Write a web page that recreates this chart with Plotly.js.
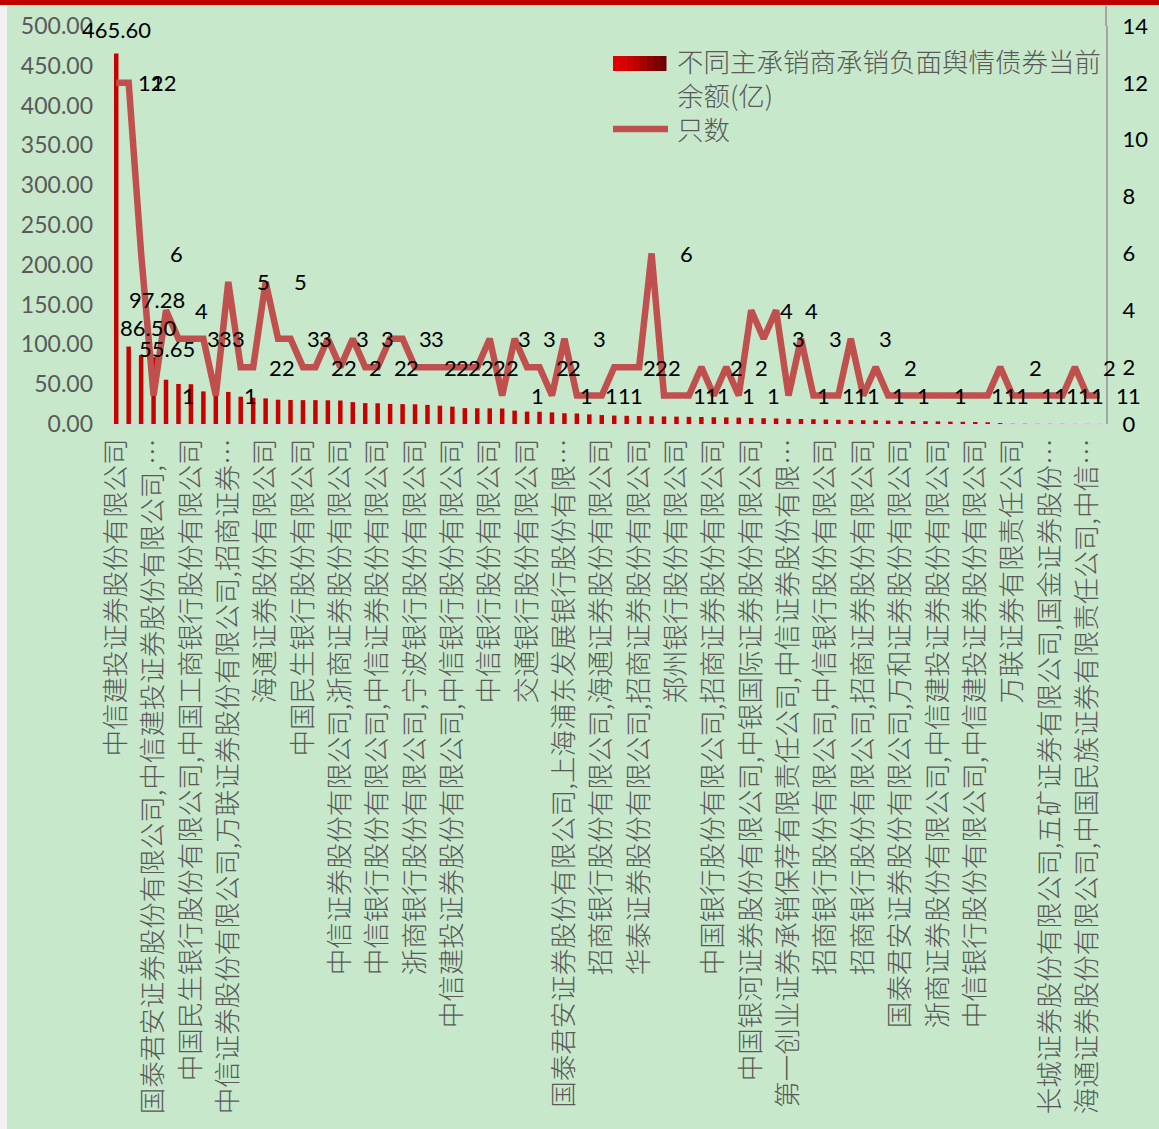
<!DOCTYPE html>
<html>
<head>
<meta charset="utf-8">
<script src="https://cdn.plot.ly/plotly-3.0.1.min.js"></script>
<style>html,body{margin:0;padding:0;background:#C8E8CC;}#chart{width:1159px;height:1129px;}</style>
</head>
<body>
<div id="chart"></div>
<script>
// ---- data ----
const barName = '不同主承销商承销负面舆情债券当前余额(亿)';
const lineName = '只数';

// tick labels shown on the x axis (every third underwriter group)
const xLabels = [
  '中信建投证券股份有限公司',
  '国泰君安证券股份有限公司,中信建投证券股份有限公司,…',
  '中国民生银行股份有限公司,中国工商银行股份有限公司',
  '中信证券股份有限公司,万联证券股份有限公司,招商证券…',
  '海通证券股份有限公司',
  '中国民生银行股份有限公司',
  '中信证券股份有限公司,浙商证券股份有限公司',
  '中信银行股份有限公司,中信证券股份有限公司',
  '浙商银行股份有限公司,宁波银行股份有限公司',
  '中信建投证券股份有限公司,中信银行股份有限公司',
  '中信银行股份有限公司',
  '交通银行股份有限公司',
  '国泰君安证券股份有限公司,上海浦东发展银行股份有限…',
  '招商银行股份有限公司,海通证券股份有限公司',
  '华泰证券股份有限公司,招商证券股份有限公司',
  '郑州银行股份有限公司',
  '中国银行股份有限公司,招商证券股份有限公司',
  '中国银河证券股份有限公司,中银国际证券股份有限公司',
  '第一创业证券承销保荐有限责任公司,中信证券股份有限…',
  '招商银行股份有限公司,中信银行股份有限公司',
  '招商银行股份有限公司,招商证券股份有限公司',
  '国泰君安证券股份有限公司,万和证券股份有限公司',
  '浙商证券股份有限公司,中信建投证券股份有限公司',
  '中信银行股份有限公司,中信建投证券股份有限公司',
  '万联证券有限责任公司',
  '长城证券股份有限公司,五矿证券有限公司,国金证券股份…',
  '海通证券股份有限公司,中国民族证券有限责任公司,中信…'
];

// 余额(亿) per group
const amounts = [
  465.60, 97.28, 86.50, 84.0, 55.65, 50.3, 50.0, 41.0, 40.6, 40.3,
  34.3, 33.0, 32.2, 30.5, 30.2, 30.0, 30.0, 29.8, 29.5, 27.5,
  26.2, 26.0, 25.2, 25.0, 24.8, 24.0, 23.0, 21.8, 20.0, 19.8,
  19.7, 19.5, 16.8, 15.6, 15.4, 14.6, 13.5, 13.2, 12.1, 11.2,
  10.6, 10.3, 10.0, 9.8, 9.5, 9.3, 9.0, 8.8, 8.5, 8.3,
  8.0, 7.6, 7.3, 7.0, 6.6, 6.3, 6.0, 5.6, 5.3, 5.0,
  4.8, 4.5, 4.3, 4.0, 3.8, 3.5, 3.3, 3.0, 2.8, 2.5,
  2.2, 1.2, 0.3, 0.3, 0.2, 0.2, 0.2, 0.1, 0.1, 0.1
];

// 只数 per group
const counts = [
  12, 12, 6, 1, 4, 3, 3, 3, 1, 5,
  2, 2, 5, 3, 3, 2, 2, 3, 2, 3,
  2, 2, 3, 3, 2, 2, 2, 2, 2, 2,
  3, 1, 3, 2, 2, 1, 3, 1, 1, 1,
  2, 2, 2, 6, 1, 1, 1, 2, 1, 2,
  1, 4, 3, 4, 1, 3, 1, 1, 1, 3,
  1, 2, 1, 1, 1, 1, 1, 1, 1, 1,
  1, 2, 1, 1, 1, 1, 1, 2, 1, 1
];

const leftTicks = [0, 50, 100, 150, 200, 250, 300, 350, 400, 450, 500];
const rightTicks = [0, 2, 4, 6, 8, 10, 12, 14];

// which data labels are visible in the reference
const barLabelIdx = [0, 1, 2, 4];
const hiddenCountLabels = [63, 64, 66, 67];

// ---- build ----
const idx = amounts.map((_, i) => i);
const labelStep = 3;
const tickvals = xLabels.map((_, k) => k * labelStep);

const numFont = 'Lato, "Noto Sans CJK SC", sans-serif';
const cjkFont = '"Noto Sans CJK SC", Lato, sans-serif';

const traces = [
  {
    type: 'bar', name: barName, x: idx, y: amounts,
    width: 0.36,
    marker: {color: '#C80000', line: {width: 0}},
    showlegend: false, hoverinfo: 'x+y'
  },
  {
    type: 'scatter', mode: 'lines', name: lineName, x: idx, y: counts, yaxis: 'y2',
    line: {color: '#C0504D', width: 6.5},
    showlegend: false, cliponaxis: false
  }
];

const annotations = [];
// line data labels (to the right of each point)
counts.forEach((v, i) => {
  if (hiddenCountLabels.includes(i)) return;
  annotations.push({
    x: i, y: v, xref: 'x', yref: 'y2', text: String(v), showarrow: false,
    xanchor: 'center', yanchor: 'middle', xshift: 35,
    font: {family: numFont, size: 22, color: '#000000'}
  });
});
// bar data labels
const barLabelShift = {0: [0, 24], 1: [28, 47], 2: [7, 28], 4: [1, 31]};
barLabelIdx.forEach(i => {
  annotations.push({
    x: i, y: amounts[i], xref: 'x', yref: 'y', text: amounts[i].toFixed(2), showarrow: false,
    xanchor: 'center', yanchor: 'middle', xshift: barLabelShift[i][0], yshift: barLabelShift[i][1],
    font: {family: numFont, size: 22, color: '#000000'}
  });
});

// custom legend (pixel -> paper helpers)
const plotL = 110, plotR = 1106, plotT = 26, plotB = 424;
const px = p => (p - plotL) / (plotR - plotL);
const py = p => (plotB - p) / (plotB - plotT);

annotations.push({
  xref: 'paper', yref: 'paper', x: px(675), y: py(77), xanchor: 'left', yanchor: 'middle',
  align: 'left', showarrow: false,
  text: barName.slice(0, 16) + '<br>' + barName.slice(16),
  font: {family: cjkFont, size: 26.5, color: '#595959', weight: 300}
});
annotations.push({
  xref: 'paper', yref: 'paper', x: px(675), y: py(128), xanchor: 'left', yanchor: 'middle',
  align: 'left', showarrow: false, text: lineName,
  font: {family: cjkFont, size: 26.5, color: '#595959', weight: 300}
});

const shapes = [];
// top red band
shapes.push({type: 'rect', xref: 'paper', yref: 'paper', x0: px(0), x1: px(1159), y0: py(5), y1: py(-2),
  fillcolor: '#C00000', line: {width: 0}, layer: 'above'});
// left light strip
shapes.push({type: 'rect', xref: 'paper', yref: 'paper', x0: px(-2), x1: px(7), y0: py(1131), y1: py(5),
  fillcolor: '#F2F2F2', line: {width: 0}});
// right axis line extension to the top
shapes.push({type: 'line', xref: 'paper', yref: 'paper', x0: 1, x1: 1, y0: 1, y1: py(6),
  line: {color: '#A6A6A6', width: 2}});
// legend bar swatch (gradient approximated by slices)
const swatchCols = ['#E00000', '#D80000', '#CC0000', '#BC0000', '#A80000', '#940000', '#800000', '#700000'];
const sw0 = 613, sw1 = 666;
swatchCols.forEach((c, k) => {
  const a = sw0 + (sw1 - sw0) * k / swatchCols.length;
  const b = sw0 + (sw1 - sw0) * (k + 1) / swatchCols.length;
  shapes.push({type: 'rect', xref: 'paper', yref: 'paper', x0: px(a), x1: px(b + 0.5), y0: py(71), y1: py(56),
    fillcolor: c, line: {width: 0}});
});
// legend line swatch
shapes.push({type: 'line', xref: 'paper', yref: 'paper', x0: px(613), x1: px(668), y0: py(129), y1: py(129),
  line: {color: '#C0504D', width: 6.5}});

const layout = {
  width: 1159, height: 1129,
  margin: {l: plotL, r: 1159 - plotR, t: plotT, b: 1129 - plotB, pad: 0},
  paper_bgcolor: '#C8E8CC', plot_bgcolor: '#C8E8CC',
  showlegend: false,
  bargap: 0.6,
  xaxis: {
    range: [-0.5, amounts.length - 0.5], tickmode: 'array', tickvals: tickvals, ticktext: xLabels,
    tickangle: -90, tickfont: {family: cjkFont, size: 26.5, color: '#595959', weight: 300},
    showgrid: false, zeroline: false, showline: true, linecolor: '#D9D9D9', linewidth: 2,
    ticks: '', automargin: false, ticklabelstandoff: 2
  },
  yaxis: {
    range: [0, 500], tickmode: 'array', tickvals: leftTicks, tickformat: '.2f',
    tickfont: {family: numFont, size: 23, color: '#595959'},
    showgrid: false, zeroline: false, showline: false, ticks: '', automargin: false,
    ticklabelstandoff: 16
  },
  yaxis2: {
    range: [0, 14], overlaying: 'y', side: 'right', tickmode: 'array', tickvals: rightTicks,
    tickfont: {family: numFont, size: 22, color: '#000000'},
    showgrid: false, zeroline: false, showline: true, linecolor: '#A6A6A6', linewidth: 2,
    ticks: '', automargin: false, ticklabelstandoff: 10
  },
  annotations: annotations,
  shapes: shapes,
  font: {family: numFont}
};

Plotly.newPlot('chart', traces, layout, {displayModeBar: false, staticPlot: true});
</script>
</body>
</html>
